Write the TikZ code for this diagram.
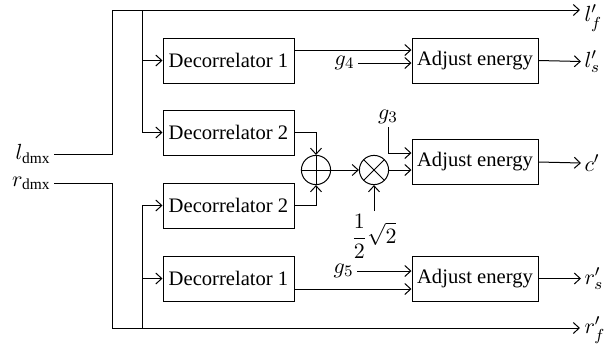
\documentclass[tikz,border=0pt]{standalone}
\usepackage{fontspec}
\setmainfont{Liberation Serif}
\usetikzlibrary{calc,arrows.meta}
\begin{document}
\begin{tikzpicture}[x=0.5pt,y=-0.5pt, line width=0.5pt, >={Straight Barb[length=3pt,width=5.5pt]},
  font=\fontsize{10.3}{12}\selectfont,
  box/.style={draw, minimum width=65.5pt, minimum height=22.5pt, inner sep=0pt},
  adjbox/.style={draw, minimum width=63pt, minimum height=22.5pt, inner sep=0pt},
  opbox/.style={draw, circle, minimum size=14.6pt, inner sep=0pt},
  plusop/.style={opbox, path picture={\draw (path picture bounding box.north) -- (path picture bounding box.south) (path picture bounding box.west) -- (path picture bounding box.east);}},
  timesop/.style={opbox, path picture={\draw (path picture bounding box.north west) -- (path picture bounding box.south east) (path picture bounding box.south west) -- (path picture bounding box.north east);}},
  lbl/.style={inner sep=1.5pt, font=\fontsize{11}{13}\selectfont}]
\useasboundingbox (0,0) rectangle (606,349);

% blocks
\node[box] (dec1a) at (228.5,60.5) {Decorrelator 1};
\node[box] (dec2a) at (228.5,132.5) {Decorrelator 2};
\node[box] (dec2b) at (228.5,205.5) {Decorrelator 2};
\node[box] (dec1b) at (228.5,278.5) {Decorrelator 1};
\node[adjbox] (adj1) at (475,60.5) {Adjust energy};
\node[adjbox] (adj2) at (475,162) {Adjust energy};
\node[adjbox] (adj3) at (475,278.5) {Adjust energy};
\node[plusop] (plus) at (316,170) {};
\node[timesop] (times) at (374,170) {};

% labels
\node[lbl, anchor=east] (ldmx) at (54,154) {$l_{\mathrm{dmx}}$};
\node[lbl, anchor=east] (rdmx) at (54,183) {$r_{\mathrm{dmx}}$};
\node[lbl, anchor=west, inner sep=0.5pt] (lf) at (583,18) {$l'_f$};
\node[lbl, anchor=west] (ls) at (581,61.5) {$l'_s$};
\node[lbl, anchor=west] (cp) at (581,163) {$c'$};
\node[lbl, anchor=west] (rs) at (581,278.5) {$r'_s$};
\node[lbl, anchor=west] (rf) at (581,330) {$r'_f$};
\node[lbl, anchor=east] (g4) at (358,63) {$g_4$};
\node[lbl, anchor=east] (g5) at (357,271) {$g_5$};
\node[lbl, anchor=south] (g3) at (388,127) {$g_3$};
\node[lbl, anchor=north] (half) at (374,211) {$\displaystyle\frac{1}{2}\sqrt{2}$};

% junctions
\coordinate (tl) at (112,10);
\coordinate (bl) at (112,328);
\coordinate (bt) at (142,10);
\coordinate (bb) at (142,328);
\coordinate (lfend) at (580,10);
\coordinate (rfend) at (580,328);

% inputs
\draw[->] (ldmx.east) -| (tl) -- (lfend);
\draw[->] (rdmx.east) -| (bl) -- (rfend);
\draw[->] (bt) |- (dec2a.west);
\draw[->] (bt |- dec1a.west) -- (dec1a.west);
\draw[->] (bb) |- (dec2b.west);
\draw[->] (bb |- dec1b.west) -- (dec1b.west);

% decorrelator outputs
\draw[->] ($(dec1a.east)+(0,-10.5)$) -- ($(adj1.west)+(0,-10.5)$);
\draw[->] ($(dec1b.east)+(0,10.5)$) -- ($(adj3.west)+(0,10.5)$);
\draw[->] (dec2a.east) -| (plus.north);
\draw[->] (dec2b.east) -| (plus.south);
\draw[->] (plus.east) -- (times.west);
\draw[->] (times.east) -- (times -| adj2.west);
\draw[->] (half.north) -- (times.south);
\draw[->] (g3.south) |- ($(adj2.west)+(0,-9)$);
\draw[->] (g4.east) -- (g4 -| adj1.west);
\draw[->] (g5.east) -- (g5 -| adj3.west);

% outputs
\draw[->] (adj1.east) -- (ls.west);
\draw[->] (adj2.east) -- (cp.west);
\draw[->] (adj3.east) -- (rs.west);
\end{tikzpicture}
\end{document}
